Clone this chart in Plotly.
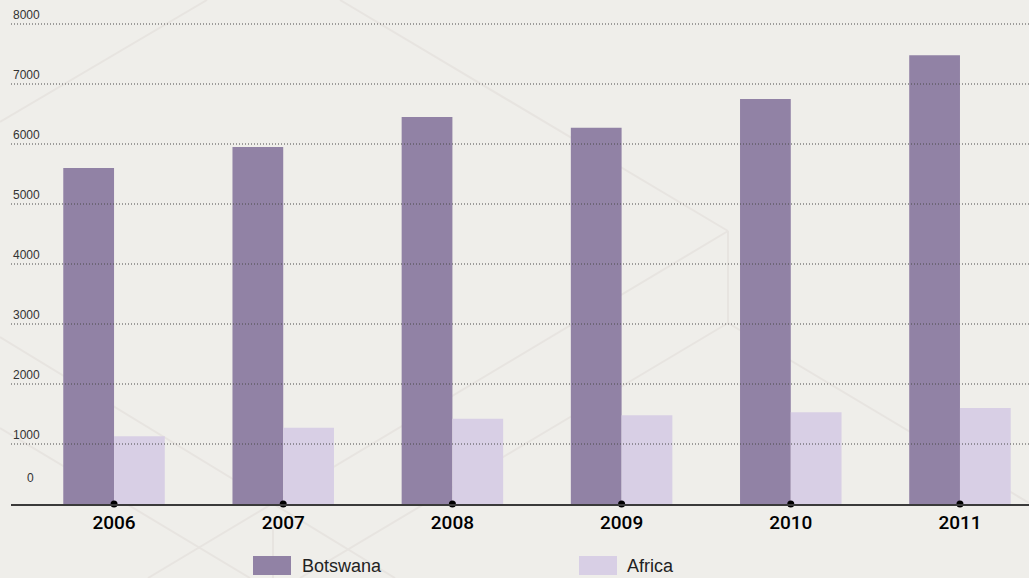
import plotly.graph_objects as go

years = ["2006", "2007", "2008", "2009", "2010", "2011"]
botswana = [5600, 5950, 6450, 6270, 6750, 7480]
africa = [1130, 1270, 1420, 1480, 1530, 1600]
y_ticks = [1000, 2000, 3000, 4000, 5000, 6000, 7000, 8000]
y_labels = ["1000", "2000", "3000", "4000", "5000", "6000", "7000", "8000"]

BG = "#EFEEEA"
C_BOT = "#9182A5"
C_AFR = "#D8CFE5"
SANS = "Liberation Sans, Arial, sans-serif"
TICKF = "Roboto, Liberation Sans, Arial, sans-serif"

W, H = 1029, 578
ML, MR, MT, MB = 11, 0, 0, 74
PW, PH = W - ML - MR, H - MT - MB

def px(x):
    return (x - ML) / PW

def py(y):
    return (H - MB - y) / PH

xpos = list(range(len(years)))

fig = go.Figure()
fig.add_trace(go.Bar(x=xpos, y=botswana, name="Botswana", marker=dict(color=C_BOT, line=dict(width=0)),
                     showlegend=False))
fig.add_trace(go.Bar(x=xpos, y=africa, name="Africa", marker=dict(color=C_AFR, line=dict(width=0)),
                     showlegend=False))
fig.add_trace(go.Scatter(x=xpos, y=[0] * len(xpos), mode="markers",
                         marker=dict(color="#000000", size=7), cliponaxis=False,
                         showlegend=False, hoverinfo="skip"))

shapes = []
# decorative faint background lines (pixel segments)
deco = [
    ((207, 0), (0, 122)),
    ((340, 0), (728, 231)),
    ((728, 231), (728, 323)),
    ((728, 231), (148, 578)),
    ((728, 323), (300, 578)),
    ((728, 323), (1029, 503)),
    ((0, 337), (395, 578)),
    ((0, 428), (250, 578)),
    ((273, 527), (273, 578)),
]
for (a, b) in deco:
    shapes.append(dict(type="line", xref="paper", yref="paper",
                       x0=px(a[0]), y0=py(a[1]), x1=px(b[0]), y1=py(b[1]),
                       line=dict(color="#E7E4E0", width=2), layer="below"))

# dotted gridlines above bars
for v in y_ticks:
    shapes.append(dict(type="line", xref="paper", yref="y", x0=0, x1=1, y0=v, y1=v,
                       line=dict(color="#4A4A4A", width=1, dash="1px,2px"), layer="above"))

# legend swatches
shapes.append(dict(type="rect", xref="paper", yref="paper", x0=px(253), x1=px(291),
                   y0=py(556), y1=py(575), fillcolor=C_BOT, line=dict(width=0)))
shapes.append(dict(type="rect", xref="paper", yref="paper", x0=px(579), x1=px(617),
                   y0=py(556), y1=py(575), fillcolor=C_AFR, line=dict(width=0)))

annotations = []
for v, t in zip(y_ticks, y_labels):
    annotations.append(dict(x=0, xref="paper", y=v, yref="y", text=t, showarrow=False,
                            xanchor="left", yanchor="middle", yshift=9,
                            font=dict(family=SANS, size=12, color="#333333")))
annotations.append(dict(x=px(30), xref="paper", y=0, yref="y", text="0", showarrow=False,
                        xanchor="center", yanchor="middle", yshift=26,
                        font=dict(family=SANS, size=12, color="#333333")))
annotations.append(dict(x=px(300), xref="paper", y=py(566), yref="paper", text="Botswana",
                        showarrow=False, xanchor="left", yanchor="middle",
                        font=dict(family=SANS, size=18, color="#222222")))
annotations.append(dict(x=px(625), xref="paper", y=py(566), yref="paper", text="Africa",
                        showarrow=False, xanchor="left", yanchor="middle",
                        font=dict(family=SANS, size=18, color="#222222")))

fig.update_layout(
    width=W, height=H,
    margin=dict(l=ML, r=MR, t=MT, b=MB, pad=0),
    paper_bgcolor=BG, plot_bgcolor=BG,
    barmode="group", bargap=0.4, bargroupgap=0,
    shapes=shapes, annotations=annotations,
    xaxis=dict(range=[-0.609, 5.408], tickmode="array", tickvals=xpos, ticktext=years,
               showgrid=False, zeroline=False, showline=True, linewidth=2, linecolor="#3A3A3A",
               ticks="", ticklabelstandoff=0,
               tickfont=dict(family=TICKF, size=19, color="#000000", weight=500),
               fixedrange=True),
    yaxis=dict(range=[0, 8400], showgrid=False, zeroline=False, showticklabels=False,
               showline=False, fixedrange=True),
    font=dict(family=SANS),
)

fig.write_html("out.html")
